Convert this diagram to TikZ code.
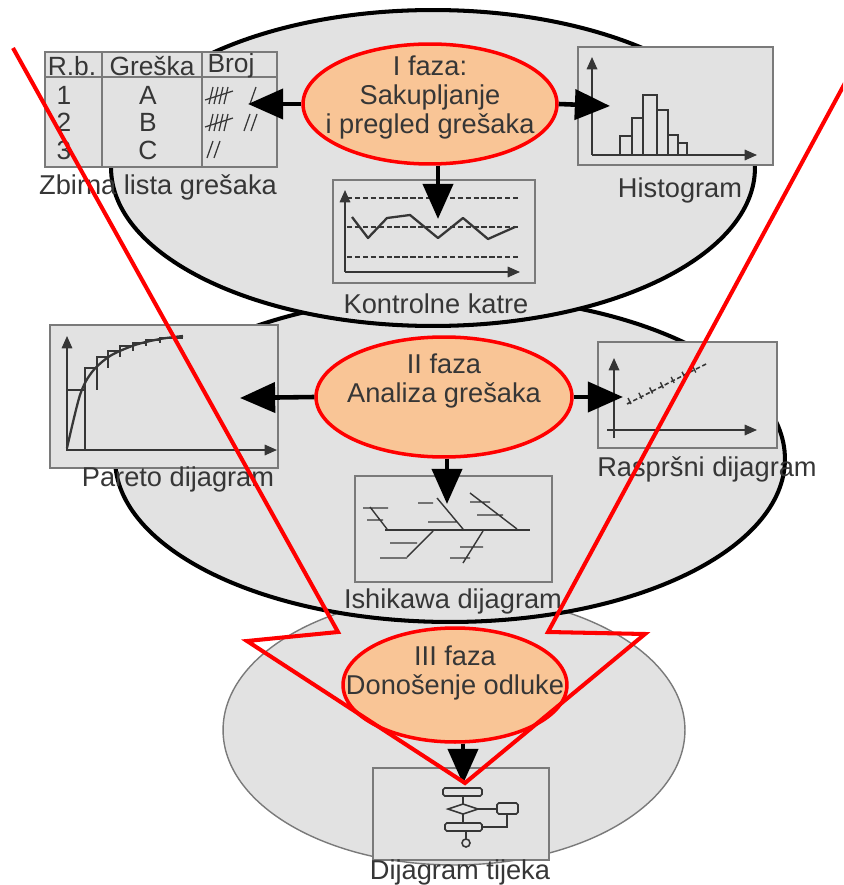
\documentclass[tikz,border=0pt]{standalone}
\usepackage{fontspec}
\setmainfont{Liberation Sans}
\usetikzlibrary{arrows.meta,shapes.geometric,calc}
\definecolor{bgray}{HTML}{E2E2E2}
\definecolor{orng}{HTML}{F9C596}
\definecolor{txt}{HTML}{363636}
\definecolor{frame}{HTML}{7A7A7A}
\begin{document}
\begin{tikzpicture}[x=0.02cm,y=-0.02cm,
  bigell/.style={ellipse, draw=black, line width=2.3pt, fill=bgray, inner sep=0pt},
  phase/.style={ellipse, draw=red, line width=2pt, fill=orng, inner sep=0pt},
  panel/.style={rectangle, draw=frame, line width=1.2pt, fill=bgray, inner sep=0pt},
  captext/.style={text=txt, font=\fontsize{15.5}{17}\selectfont, inner sep=0pt},
  tabtext/.style={text=txt, font=\fontsize{15}{16}\selectfont, inner sep=0pt},
  ptxt/.style={text=txt, font=\fontsize{15.5}{16.5}\selectfont, align=center, inner sep=0pt},
  bigarrow/.style={line width=2.6pt, -{Triangle[length=20pt,width=17pt]}},
  axisarrow/.style={draw=txt, line width=0.9pt, -{Triangle[length=7pt,width=6pt]}},
  icon/.style={draw=txt, line width=0.9pt},
  tally/.style={draw=txt, line width=0.7pt},
  funnel/.style={draw=red, line width=2.3pt, line join=miter, miter limit=20}
]
\useasboundingbox (0,0) rectangle (843,885);
\clip (0,0) rectangle (843,885);

% big background ellipses
\node[bigell, draw=frame, line width=0.8pt, minimum width=9.24cm, minimum height=5.4cm] (ell3) at (454,730) {};
\node[bigell, minimum width=13.4cm, minimum height=6.52cm] (ell2) at (450,459) {};
\node[bigell, minimum width=12.88cm, minimum height=6.32cm] (ell1) at (433,168) {};

% ---- table (Zbirna lista gresaka)
\node[panel, minimum width=4.64cm, minimum height=2.3cm] (tbl) at (161,109.5) {};
\draw[frame, line width=1pt] (102,52) -- (102,167) (202,52) -- (202,167) (45,77) -- (277,77);
\node[tabtext] (th1) at (72,66) {R.b.};
\node[tabtext] (th2) at (152,66) {Greška};
\node[tabtext] (th3) at (231,66) {Broj};
\node[tabtext] (r1) at (64,95) {1};
\node[tabtext] (r2) at (64,122) {2};
\node[tabtext] (r3) at (64,150) {3};
\node[tabtext] (ra) at (148,95) {A};
\node[tabtext] (rb) at (148,122) {B};
\node[tabtext] (rc) at (148,150) {C};
\foreach \x in {209,214,219,224} {
  \draw[tally] (\x,104) -- (\x+4,87);
  \draw[tally] (\x,131) -- (\x+4,114);
}
\draw[tally] (205,100) -- (233,91);
\draw[tally] (205,127) -- (233,118);
\draw[tally] (250,104) -- (256,87);
\draw[tally] (244,131) -- (250,114) (251,131) -- (257,114);
\draw[tally] (207,158) -- (213,141) (214,158) -- (220,141);
\node[captext] (captbl) at (158,187) {Zbirna lista grešaka};

% ---- histogram
\node[panel, minimum width=3.9cm, minimum height=2.36cm] (hist) at (675.5,106) {};
\draw[axisarrow] (592,155) -- (592,57);
\draw[axisarrow] (592,155) -- (757,155);
\draw[icon] (620,155) rectangle (632,136) (632,155) rectangle (643,118)
  (643,155) rectangle (657,95) (657,155) rectangle (668,110)
  (668,155) rectangle (678,135) (678,155) rectangle (687,143);
\node[captext] (caphist) at (680,190) {Histogram};

% ---- control chart
\node[panel, minimum width=4.04cm, minimum height=2.06cm] (ctrl) at (434,231.5) {};
\draw[txt, line width=0.8pt, dash pattern=on 3pt off 1.5pt] (347,198) -- (520,198) (347,227) -- (520,227) (347,257) -- (520,257);
\draw[axisarrow] (345,272) -- (345,190);
\draw[axisarrow] (345,272) -- (520,272);
\draw[txt, line width=1.3pt, line join=round] (352,217) -- (368,238) -- (387,218) -- (410,215) -- (438,238) -- (463,218) -- (488,239) -- (515,227);
\node[captext] (capctrl) at (436,304) {Kontrolne katre};

% ---- pareto
\node[panel, minimum width=4.56cm, minimum height=2.86cm] (par) at (164,396.5) {};
\draw[axisarrow] (67,450) -- (67,336);
\draw[axisarrow] (67,450) -- (277,450);
\draw[icon] (67,450) rectangle (85,390);
\draw[icon] (85,450) -- (85,368) -- (97,368) -- (97,390);
\draw[icon] (97,368) -- (97,357) -- (108,357) -- (108,368)
  (108,357) -- (108,351) -- (120,351) -- (120,357)
  (120,351) -- (120,346) -- (133,346) -- (133,351)
  (133,346) -- (133,343) -- (146,343) -- (146,346)
  (146,343) -- (146,340) -- (160,340) -- (160,343)
  (160,340) -- (160,338) -- (183,338);
\draw[txt, line width=1.3pt] plot[smooth] coordinates {(67,448) (80,395) (92,372) (110,356) (135,345) (160,339) (183,336)};
\node[captext] (cappar) at (178,479) {Pareto dijagram};

% ---- scatter
\node[panel, minimum width=3.58cm, minimum height=2.12cm] (scat) at (687.5,395) {};
\draw[axisarrow] (614,438) -- (614,358);
\draw[axisarrow] (607,430) -- (757,430);
\draw[txt, line width=0.9pt, dash pattern=on 2.5pt off 1.5pt] (627,404) -- (706,364);
\foreach \t in {0,0.15,0.3,0.45,0.6,0.75,0.9} {
  \draw[txt, line width=0.8pt] ($(630,401)!\t!(702,366)+(-2,-3)$) -- ++(3,6);
}
\node[captext] (capscat) at (707,469) {Raspršni dijagram};

% ---- ishikawa
\node[panel, minimum width=3.94cm, minimum height=2.12cm] (ishi) at (453.5,529) {};
\draw[txt, line width=1.5pt] (385,530) -- (530,530);
\draw[txt, line width=0.8pt]
  (387,529) -- (370,507) (363,508) -- (388,508) (367,520) -- (383,520)
  (463,529) -- (437,498) (418,503) -- (433,503) (428,522) -- (457,522)
  (517,529) -- (470,493) (470,502) -- (490,502) (477,515) -- (503,515)
  (433,531) -- (407,557) (380,558) -- (407,558) (390,543) -- (417,543)
  (483,531) -- (463,563) (450,558) -- (470,558) (460,547) -- (483,547);
\node[captext] (capishi) at (453,601) {Ishikawa dijagram};

% ---- flow chart
\node[panel, minimum width=3.52cm, minimum height=1.84cm] (flow) at (461,814) {};
\draw[icon, rounded corners=1pt] (443,788) rectangle (482,796);
\draw[icon] (463,796) -- (463,804);
\draw[icon] (448,809) -- (463,804) -- (478,809) -- (463,814) -- cycle;
\draw[icon] (478,809) -- (497,809);
\draw[icon, rounded corners=1pt] (497,803) rectangle (518,814);
\draw[icon] (507,814) -- (507,827) -- (482,827);
\draw[icon] (463,814) -- (463,823);
\draw[icon, rounded corners=1pt] (445,823) rectangle (482,831);
\draw[icon] (466,831) -- (466,839);
\draw[icon] (466,843) circle[radius=0.08cm];
\node[captext] (capflow) at (460,872) {Dijagram tijeka};

% ---- phases
\node[phase, minimum width=5.08cm, minimum height=2.4cm] (e1) at (430,104) {};
\node[ptxt] (e1t) at (430,97) {I faza:\\Sakupljanje\\i pregled grešaka};
\node[phase, minimum width=5.12cm, minimum height=2.4cm] (e2) at (444,397) {};
\node[ptxt] (e2t) at (444,381) {II faza\\Analiza grešaka};
\node[phase, minimum width=4.48cm, minimum height=2.28cm] (e3) at (455,685) {};
\node[ptxt] (e3t) at (455,673) {III faza\\Donošenje odluke};

% ---- arrows
\coordinate (t1l) at (248,104);
\coordinate (t1r) at (610,106);
\coordinate (t1d) at (438,219);
\coordinate (t2l) at (240,398);
\coordinate (t2r) at (623,397);
\coordinate (t2d) at (447,504);
\coordinate (t3d) at (463,784);
\draw[bigarrow] (e1.west) -- (t1l);
\draw[bigarrow] (e1.east) -- (t1r);
\draw[bigarrow] (e1.south -| t1d) -- (t1d);
\draw[bigarrow] (e2.west) -- (t2l);
\draw[bigarrow] (e2.east) -- (t2r);
\draw[bigarrow] (e2.south -| t2d) -- (t2d);
\draw[bigarrow] (e3.south -| t3d) -- (t3d);

% ---- red funnel
\draw[funnel] (852,70) -- (548,632) -- (645,634) -- (465,783) -- (247,641) -- (338,632) -- (13,48);
\end{tikzpicture}
\end{document}
